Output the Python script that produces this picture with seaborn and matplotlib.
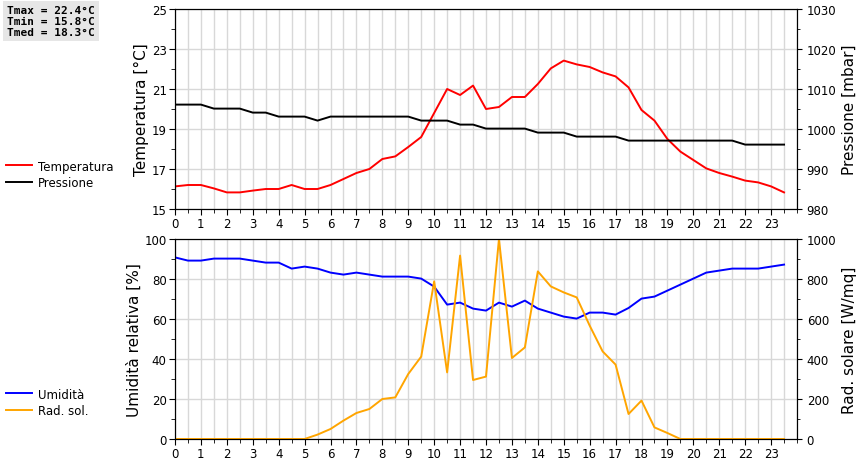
import numpy as np
import pandas as pd
import matplotlib
matplotlib.use("Agg")
import matplotlib.pyplot as plt
import seaborn as sns
from matplotlib.ticker import MultipleLocator, FixedLocator

hours = [i * 0.5 for i in range(48)]
temperature = [16.13, 16.2, 16.2, 16.03, 15.83, 15.83, 15.92, 16.0, 16.0, 16.2, 16.0, 16.0,
               16.2, 16.5, 16.8, 17.0, 17.5, 17.63, 18.1, 18.6, 19.8, 21.0, 20.7, 21.17,
               20.0, 20.1, 20.6, 20.6, 21.25, 22.03, 22.42, 22.23, 22.1, 21.83, 21.63, 21.08,
               19.95, 19.42, 18.5, 17.87, 17.45, 17.03, 16.8, 16.62, 16.42, 16.33, 16.13, 15.83]
pressure = ([1006.1] * 3 + [1005.1] * 3 + [1004.1] * 2 + [1003.1] * 3 + [1002.1] + [1003.1] * 7 +
            [1002.1] * 3 + [1001.1] * 2 + [1000.1] * 4 + [999.1] * 3 + [998.1] * 4 + [997.1] * 9 +
            [996.1] * 4)
humidity = [90.8, 89.2, 89.2, 90.2, 90.2, 90.2, 89.2, 88.2, 88.2, 85.2, 86.2, 85.2,
            83.2, 82.2, 83.2, 82.2, 81.2, 81.2, 81.2, 80.2, 76.2, 67.2, 68.2, 65.2,
            64.2, 68.2, 66.2, 69.2, 65.2, 63.2, 61.2, 60.2, 63.2, 63.2, 62.2, 65.5,
            70.2, 71.2, 74.2, 77.2, 80.2, 83.2, 84.2, 85.2, 85.2, 85.2, 86.2, 87.2]
radiation = [0] * 10 + [0, 22, 50, 92, 130, 150, 200, 208, 325, 412, 788, 333, 917, 295, 312, 1000,
             405, 458, 838, 763, 733, 708, 567, 438, 372, 125, 192, 58, 30, 0] + [0] * 8
xticks = list(range(24))
temp_ticks = [15, 17, 19, 21, 23, 25]
stats_text = "Tmax = 22.4°C\nTmin = 15.8°C\nTmed = 18.3°C"

df = pd.DataFrame({"ora": hours, "T": temperature, "P": pressure, "U": humidity, "R": radiation})

fig = plt.figure(figsize=(8.6, 4.6), dpi=100)
ax1 = fig.add_axes([175/860, 1-210/460, 622/860, 200/460])
ax3 = fig.add_axes([175/860, 1-440/460, 622/860, 200/460])

def style(ax, ylim):
    ax.set_xlim(0, 24)
    ax.set_ylim(*ylim)
    ax.set_xticks(xticks)
    ax.xaxis.set_minor_locator(MultipleLocator(0.5))
    ax.grid(True, which="both", axis="x", color="#d8d8d8", lw=1)
    ax.grid(True, which="major", axis="y", color="#d8d8d8", lw=1)
    ax.tick_params(labelsize=8.5, length=4, direction="out", pad=2)
    ax.tick_params(which="minor", length=3)
    ax.set_xlabel("")
    ax.set_axisbelow(True)

sns.lineplot(data=df, x="ora", y="T", ax=ax1, color="#ff0000", lw=1.4)
style(ax1, (15, 25))
ax1.yaxis.set_major_locator(FixedLocator(temp_ticks))
ax1.yaxis.set_minor_locator(MultipleLocator(1))
ax1.set_ylabel("Temperatura [°C]", fontsize=11, labelpad=2)
ax2 = ax1.twinx()
sns.lineplot(data=df, x="ora", y="P", ax=ax2, color="black", lw=1.4)
ax2.set_ylim(980, 1030)
ax2.yaxis.set_major_locator(MultipleLocator(10))
ax2.yaxis.set_minor_locator(MultipleLocator(5))
ax2.tick_params(labelsize=8.5)
ax2.set_ylabel("Pressione [mbar]", fontsize=11)

sns.lineplot(data=df, x="ora", y="U", ax=ax3, color="#0000ff", lw=1.4)
style(ax3, (0, 100))
ax3.yaxis.set_major_locator(MultipleLocator(20))
ax3.yaxis.set_minor_locator(MultipleLocator(10))
ax3.set_ylabel("Umidità relativa [%]", fontsize=11, labelpad=2)
ax4 = ax3.twinx()
sns.lineplot(data=df, x="ora", y="R", ax=ax4, color="#ffa500", lw=1.4)
ax4.set_ylim(0, 1000)
ax4.yaxis.set_major_locator(MultipleLocator(200))
ax4.yaxis.set_minor_locator(MultipleLocator(100))
ax4.tick_params(labelsize=8.5)
ax4.set_ylabel("Rad. solare [W/mq]", fontsize=11)
for a in (ax2, ax4):
    a.set_xlim(0, 24)

from matplotlib.lines import Line2D
fig.legend([Line2D([], [], color="#ff0000", lw=1.4), Line2D([], [], color="black", lw=1.4)],
           ["Temperatura", "Pressione"], loc="upper left", bbox_to_anchor=(-0.005, 1-150/460),
           frameon=False, fontsize=8.5, handlelength=2.2, handletextpad=0.5, labelspacing=0.3)
fig.legend([Line2D([], [], color="#0000ff", lw=1.4), Line2D([], [], color="#ffa500", lw=1.4)],
           ["Umidità", "Rad. sol."], loc="upper left", bbox_to_anchor=(-0.005, 1-378/460),
           frameon=False, fontsize=8.5, handlelength=2.2, handletextpad=0.5, labelspacing=0.3)
fig.text(0.008, 1-6/460, stats_text, ha="left", va="top", family="DejaVu Sans Mono",
         fontsize=8, fontweight="bold", linespacing=1.1,
         bbox=dict(facecolor="#e6e6e6", edgecolor="none", pad=3))

fig.savefig("out.png", dpi=100)
